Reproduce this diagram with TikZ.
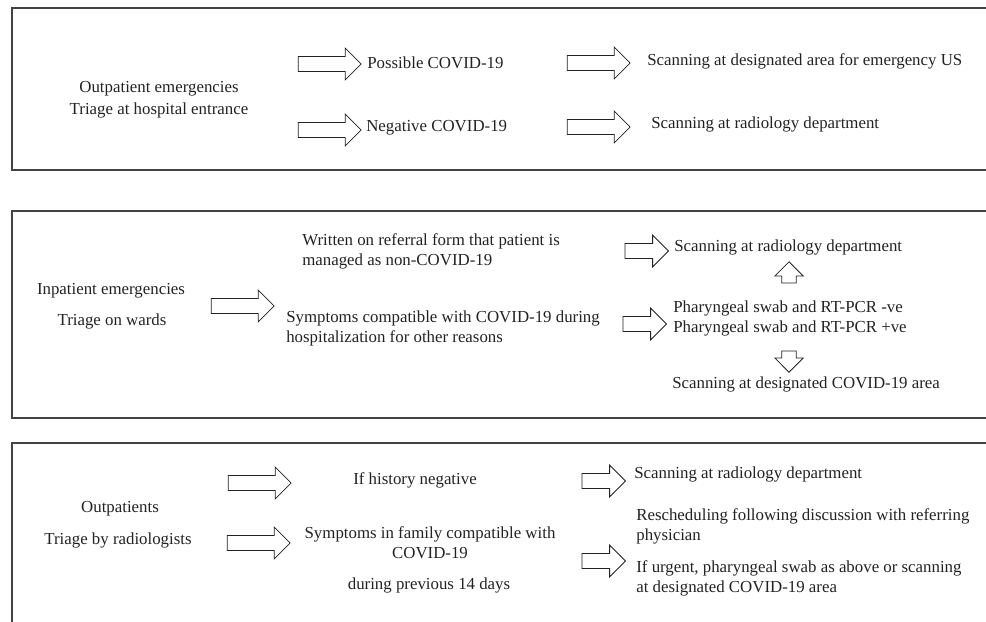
\documentclass[tikz,border=0pt]{standalone}
\usepackage{fontspec}
\setmainfont{Liberation Serif}
\usetikzlibrary{shapes.arrows,positioning}
\definecolor{ink}{HTML}{222222}

\begin{document}
\begin{tikzpicture}[x=0.0218cm,y=-0.0218cm,
  txt/.style={inner sep=0pt,font=\fontsize{10.45}{12.4}\selectfont,text=ink},
  ltxt/.style={txt,anchor=west,align=left},
  ctxt/.style={txt,align=center},
  panel/.style={draw=ink!85,line width=0.7pt},
  barr/.style={single arrow,draw=ink,line width=0.5pt,fill=white,
               inner xsep=0pt,inner ysep=0.153cm,
               single arrow head extend=0.185cm,minimum height=1.37cm},
  sbarr/.style={barr,minimum height=0.95cm},
  varr/.style={single arrow,draw=ink,line width=0.5pt,fill=white,
               inner xsep=0pt,inner ysep=0.15cm,
               single arrow head extend=0.15cm,minimum height=0.46cm}
]
  \useasboundingbox (0,0) rectangle (986,622);
  \clip (0,0) rectangle (986,622);

  % panels
  \draw[panel] (12,8)   rectangle (1000,170);
  \draw[panel] (12,211) rectangle (1000,418);
  \draw[panel] (12,443) rectangle (1000,640);

  % outpatient emergencies
  \node[ctxt] (oe)   at (159,89)  {Outpatient emergencies};
  \node[ctxt] (tr1)  at (159,110) {Triage at hospital entrance};
  \node[barr] (a1)   at (326,64)  {};
  \node[ltxt] (pos)  at (367,63)  {Possible COVID-19};
  \node[barr] (a2)   at (326,130) {};
  \node[ltxt] (neg)  at (366,128) {Negative COVID-19};
  \node[barr] (a3)   at (595,63)  {};
  \node[ltxt] (desg) at (647,61)  {Scanning at designated area for emergency US};
  \node[barr] (a4)   at (595,127) {};
  \node[ltxt] (rad1) at (651,124) {Scanning at radiology department};

  % inpatient emergencies
  \node[ctxt] (ie)   at (111,291) {Inpatient emergencies};
  \node[ctxt] (tr2)  at (112,321) {Triage on wards};
  \node[barr] (a5)   at (239,306) {};
  \node[ltxt] (ref)  at (302,251) {Written on referral form that patient is\\managed as non-COVID-19};
  \node[ltxt] (sym)  at (286,328) {Symptoms compatible with COVID-19 during\\hospitalization for other reasons};
  \node[sbarr] (a6)  at (643,251) {};
  \node[ltxt] (rad2) at (674,247) {Scanning at radiology department};
  \node[varr,rotate=90] (up) at (789,276) {};
  \node[ltxt] (pcr)  at (673,318) {Pharyngeal swab and RT-PCR -ve\\Pharyngeal swab and RT-PCR +ve};
  \node[sbarr] (a7)  at (641,324) {};
  \node[varr,rotate=-90] (dn) at (789,358) {};
  \node[ltxt] (cov)  at (672,384) {Scanning at designated COVID-19 area};

  % outpatients
  \node[ctxt] (op)   at (120,509) {Outpatients};
  \node[ctxt] (tr3)  at (118,540) {Triage by radiologists};
  \node[barr] (a8)   at (256,483) {};
  \node[ctxt] (hist) at (415,480) {If history negative};
  \node[barr] (a9)   at (255,543) {};
  \node[ctxt] (fam)  at (430,543) {Symptoms in family compatible with\\COVID-19};
  \node[ctxt] (days) at (429,585) {during previous 14 days};
  \node[sbarr] (a10) at (600,481) {};
  \node[ltxt] (rad3) at (634,474) {Scanning at radiology department};
  \node[sbarr] (a11) at (600,561) {};
  \node[ltxt] (resch) at (636,526) {Rescheduling following discussion with referring\\physician};
  \node[ltxt] (urg)  at (636,578) {If urgent, pharyngeal swab as above or scanning\\at designated COVID-19 area};
\end{tikzpicture}
\end{document}
